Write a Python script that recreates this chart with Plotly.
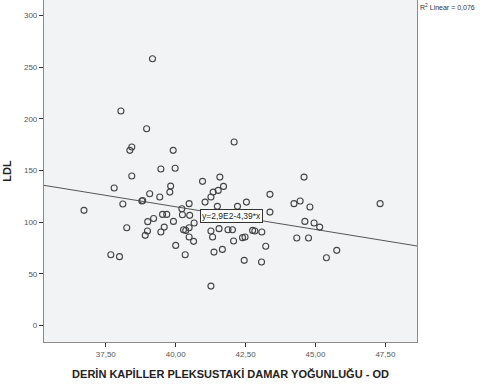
import plotly.graph_objects as go

# Data
x_vals = [39.17, 38.04, 38.96, 38.43, 38.36, 39.47, 38.43, 37.80, 39.91, 39.98,
          39.82, 39.79, 36.72, 38.11, 38.79, 38.82, 39.07, 39.43, 39.53, 39.68,
          39.21, 39.00, 38.25, 38.99, 38.91, 39.59, 39.47, 37.68, 37.99, 42.09,
          40.96, 41.58, 41.71, 41.52, 41.34, 41.26, 41.05, 40.48, 40.22, 40.24,
          40.50, 41.49, 42.21, 42.53, 43.37, 43.37, 39.92, 40.28, 40.36, 40.48,
          40.64, 40.00, 40.34, 41.26, 41.32, 41.55, 41.87, 42.03, 42.07, 41.37,
          41.67, 42.39, 42.48, 42.75, 42.83, 43.08, 43.22, 42.45, 43.07, 44.23,
          44.45, 44.59, 44.80, 44.62, 44.95, 45.15, 44.33, 44.75, 45.39, 45.76,
          47.31, 41.26, 40.48, 40.66]
y_vals = [258.1, 207.4, 190.3, 172.6, 169.4, 151.3, 144.5, 132.9, 169.4, 152.0,
          134.8, 129.0, 111.3, 117.4, 120.3, 120.8, 127.4, 124.2, 107.4, 107.4,
          103.5, 100.4, 94.5, 91.3, 87.1, 95.1, 90.3, 68.4, 66.5, 177.4,
          139.4, 143.5, 134.5, 130.6, 129.0, 124.2, 119.3, 117.8, 112.9, 107.1,
          106.5, 115.2, 115.2, 119.3, 126.8, 109.6, 100.6, 92.6, 91.9, 85.5,
          81.3, 77.4, 68.4, 91.3, 85.5, 93.6, 92.6, 92.6, 81.6, 70.9,
          73.5, 84.9, 85.5, 91.9, 91.3, 90.3, 76.5, 62.9, 61.3, 117.8,
          120.3, 143.5, 114.5, 100.6, 99.0, 95.1, 84.5, 84.5, 65.5, 72.6,
          117.8, 38.0, 94.5, 99.0]

INTERCEPT = 290.8
SLOPE = -4.40
X_RANGE = [35.29, 48.63]
Y_RANGE = [-16.1, 314.9]

x_ticks = [37.5, 40.0, 42.5, 45.0, 47.5]
x_tick_labels = ["37,50", "40,00", "42,50", "45,00", "47,50"]
y_ticks = [0, 50, 100, 150, 200, 250, 300]
y_tick_labels = ["0", "50", "100", "150", "200", "250", "300"]

x_title = "DERİN KAPİLLER PLEKSUSTAKİ DAMAR YOĞUNLUĞU - OD"
y_title = "LDL"
eq_label = "y=2,9E2-4,39*x"
r2_label = "R<sup>2</sup> Linear = 0,076"

line_x = X_RANGE
line_y = [INTERCEPT + SLOPE * v for v in line_x]
eq_x = 42.0
eq_y = INTERCEPT + SLOPE * eq_x

fig = go.Figure()
fig.add_trace(go.Scatter(x=line_x, y=line_y, mode="lines",
                         line=dict(color="#555555", width=1), hoverinfo="skip"))
fig.add_trace(go.Scatter(x=x_vals, y=y_vals, mode="markers",
                         marker=dict(symbol="circle-open", size=6, color="#444444",
                                     line=dict(width=1.1, color="#444444"))))

fig.add_annotation(x=eq_x, y=eq_y, text=eq_label, showarrow=False,
                   font=dict(family="Liberation Sans", size=8.5, color="#222222"),
                   bgcolor="white", bordercolor="#333333", borderwidth=1, borderpad=1)
fig.add_annotation(x=1.0, xref="paper", y=1.0, yref="paper", xanchor="left", yanchor="top",
                   xshift=1, yshift=-1, text=r2_label, showarrow=False,
                   font=dict(family="Liberation Sans", size=7, color="#333333"))

axis_font = dict(family="Liberation Sans", size=8, color="#555555")
fig.update_layout(
    width=484, height=386,
    margin=dict(l=44, r=67, t=0, b=44),
    paper_bgcolor="white", plot_bgcolor="#f2f3f5",
    showlegend=False,
    xaxis=dict(range=X_RANGE, tickvals=x_ticks, ticktext=x_tick_labels,
               showgrid=False, zeroline=False, showline=True, linecolor="#8a8a8a",
               linewidth=1.2, ticks="outside", ticklen=4, tickwidth=1.2,
               tickcolor="#333333", tickfont=axis_font,
               title=dict(text=x_title, standoff=12,
                          font=dict(family="Liberation Sans", size=11, color="#222222",
                                    weight="bold"))),
    yaxis=dict(range=Y_RANGE, tickvals=y_ticks, ticktext=y_tick_labels,
               showgrid=False, zeroline=False, showline=True, mirror=True,
               linecolor="#8a8a8a", linewidth=1.2, ticks="outside", ticklen=4,
               tickwidth=1.2, tickcolor="#333333", tickfont=axis_font,
               title=dict(text=y_title, standoff=10,
                          font=dict(family="Liberation Sans", size=11, color="#222222",
                                    weight="bold"))),
)

fig.write_html("out.html")
